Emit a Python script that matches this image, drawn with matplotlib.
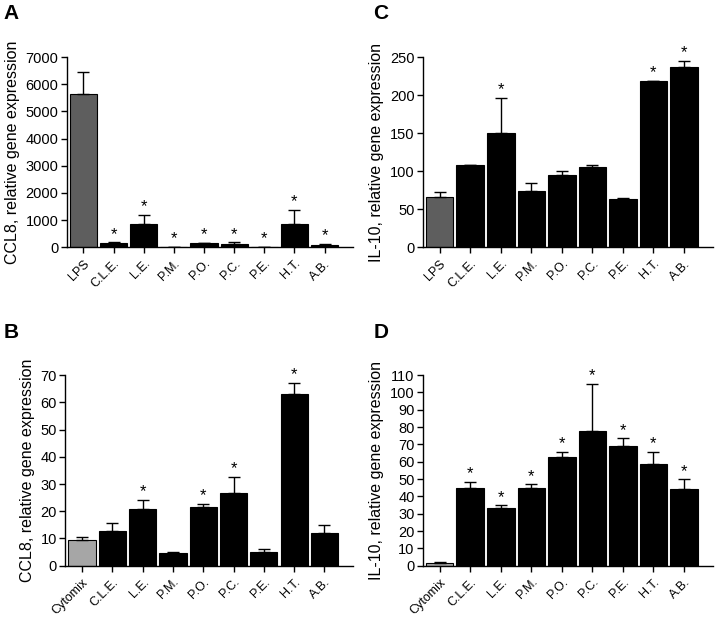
import numpy as np
import matplotlib
matplotlib.use('Agg')
import matplotlib.pyplot as plt

plt.rcParams['font.family'] = ['Liberation Sans', 'DejaVu Sans']

# ---- data ----
groups_lps = ['LPS', 'C.L.E.', 'L.E.', 'P.M.', 'P.O.', 'P.C.', 'P.E.', 'H.T.', 'A.B.']
groups_cyt = ['Cytomix', 'C.L.E.', 'L.E.', 'P.M.', 'P.O.', 'P.C.', 'P.E.', 'H.T.', 'A.B.']

ccl8_lps = [5660, 160, 870, 10, 135, 100, 5, 835, 95]
ccl8_lps_err = [790, 15, 330, 5, 35, 75, 3, 530, 28]
ccl8_lps_sig = [False, True, True, True, True, True, True, True, True]

il10_lps = [66, 108, 150.5, 74.5, 95.5, 105.5, 64, 218, 237.5]
il10_lps_err = [6.5, 0.5, 45.5, 9.5, 4.2, 3, 0.8, 0.3, 7]
il10_lps_sig = [False, False, True, False, False, False, False, True, True]

ccl8_cyt = [9.3, 12.8, 20.7, 4.8, 21.5, 26.7, 5.0, 63.0, 12.2]
ccl8_cyt_err = [1.1, 2.9, 3.5, 0.2, 1.1, 6.0, 1.1, 4.2, 2.9]
ccl8_cyt_sig = [False, False, True, False, True, True, False, True, False]

il10_cyt = [1.4, 44.6, 33.5, 44.8, 62.9, 77.9, 68.8, 58.5, 44.4]
il10_cyt_err = [0.5, 3.9, 1.3, 2.1, 2.7, 26.9, 4.7, 7.1, 5.4]
il10_cyt_sig = [False, True, True, True, True, True, True, True, True]

LPS_COLOR = '#5e5e5e'
CYT_COLOR = '#a6a6a6'


def bar_panel(ax, labels, vals, errs, sig, first_color, ylim, ystep, ylabel, star_pad):
    x = np.arange(len(labels))
    colors = [first_color] + ['black'] * (len(labels) - 1)
    ax.bar(x, vals, width=0.9, color=colors, edgecolor='black', linewidth=0.8, zorder=2)
    ax.errorbar(x, vals, yerr=[np.zeros(len(vals)), errs], fmt='none',
                ecolor='black', elinewidth=1.0, capsize=4, capthick=1.0, zorder=3)
    for xi, v, e, s in zip(x, vals, errs, sig):
        if s:
            ax.text(xi, v + e + star_pad, '*', ha='center', va='bottom', fontsize=12)

    ax.set_xlim(-0.55, len(labels) - 0.05)
    ax.set_ylim(*ylim)
    ax.set_yticks(np.arange(ylim[0], ylim[1] + ystep / 2, ystep))
    ax.set_xticks(x)
    ax.set_xticklabels(labels, rotation=45, ha='right', rotation_mode='anchor', fontsize=9)
    ax.tick_params(axis='y', labelsize=10.5, length=4, width=1, pad=2)
    ax.tick_params(axis='x', length=4, width=1)
    ax.spines['top'].set_visible(False)
    ax.spines['right'].set_visible(False)
    ax.spines['left'].set_linewidth(1)
    ax.spines['bottom'].set_linewidth(1)
    ax.set_ylabel(ylabel, fontsize=11.5, labelpad=4)


fig = plt.figure(figsize=(7.18, 6.21), dpi=100)

axA = fig.add_axes([0.093, 0.602, 0.399, 0.306])
axC = fig.add_axes([0.589, 0.602, 0.404, 0.306])
axB = fig.add_axes([0.091, 0.089, 0.401, 0.307])
axD = fig.add_axes([0.589, 0.089, 0.404, 0.307])

bar_panel(axA, groups_lps, ccl8_lps, ccl8_lps_err, ccl8_lps_sig, LPS_COLOR,
          (0, 7000), 1000, 'CCL8, relative gene expression', 20)
bar_panel(axC, groups_lps, il10_lps, il10_lps_err, il10_lps_sig, LPS_COLOR,
          (0, 250), 50, 'IL-10, relative gene expression', 1)
bar_panel(axB, groups_cyt, ccl8_cyt, ccl8_cyt_err, ccl8_cyt_sig, CYT_COLOR,
          (0, 70), 10, 'CCL8, relative gene expression', 0.3)
bar_panel(axD, groups_cyt, il10_cyt, il10_cyt_err, il10_cyt_sig, CYT_COLOR,
          (0, 110), 10, 'IL-10, relative gene expression', 0.4)

# panel letters
for lbl, xf, yf in [('A', 0.005, 0.978), ('C', 0.52, 0.978), ('B', 0.005, 0.464), ('D', 0.52, 0.464)]:
    fig.text(xf, yf, lbl, fontsize=15, fontweight='bold', ha='left', va='center')

fig.savefig('out.png', dpi=100)
